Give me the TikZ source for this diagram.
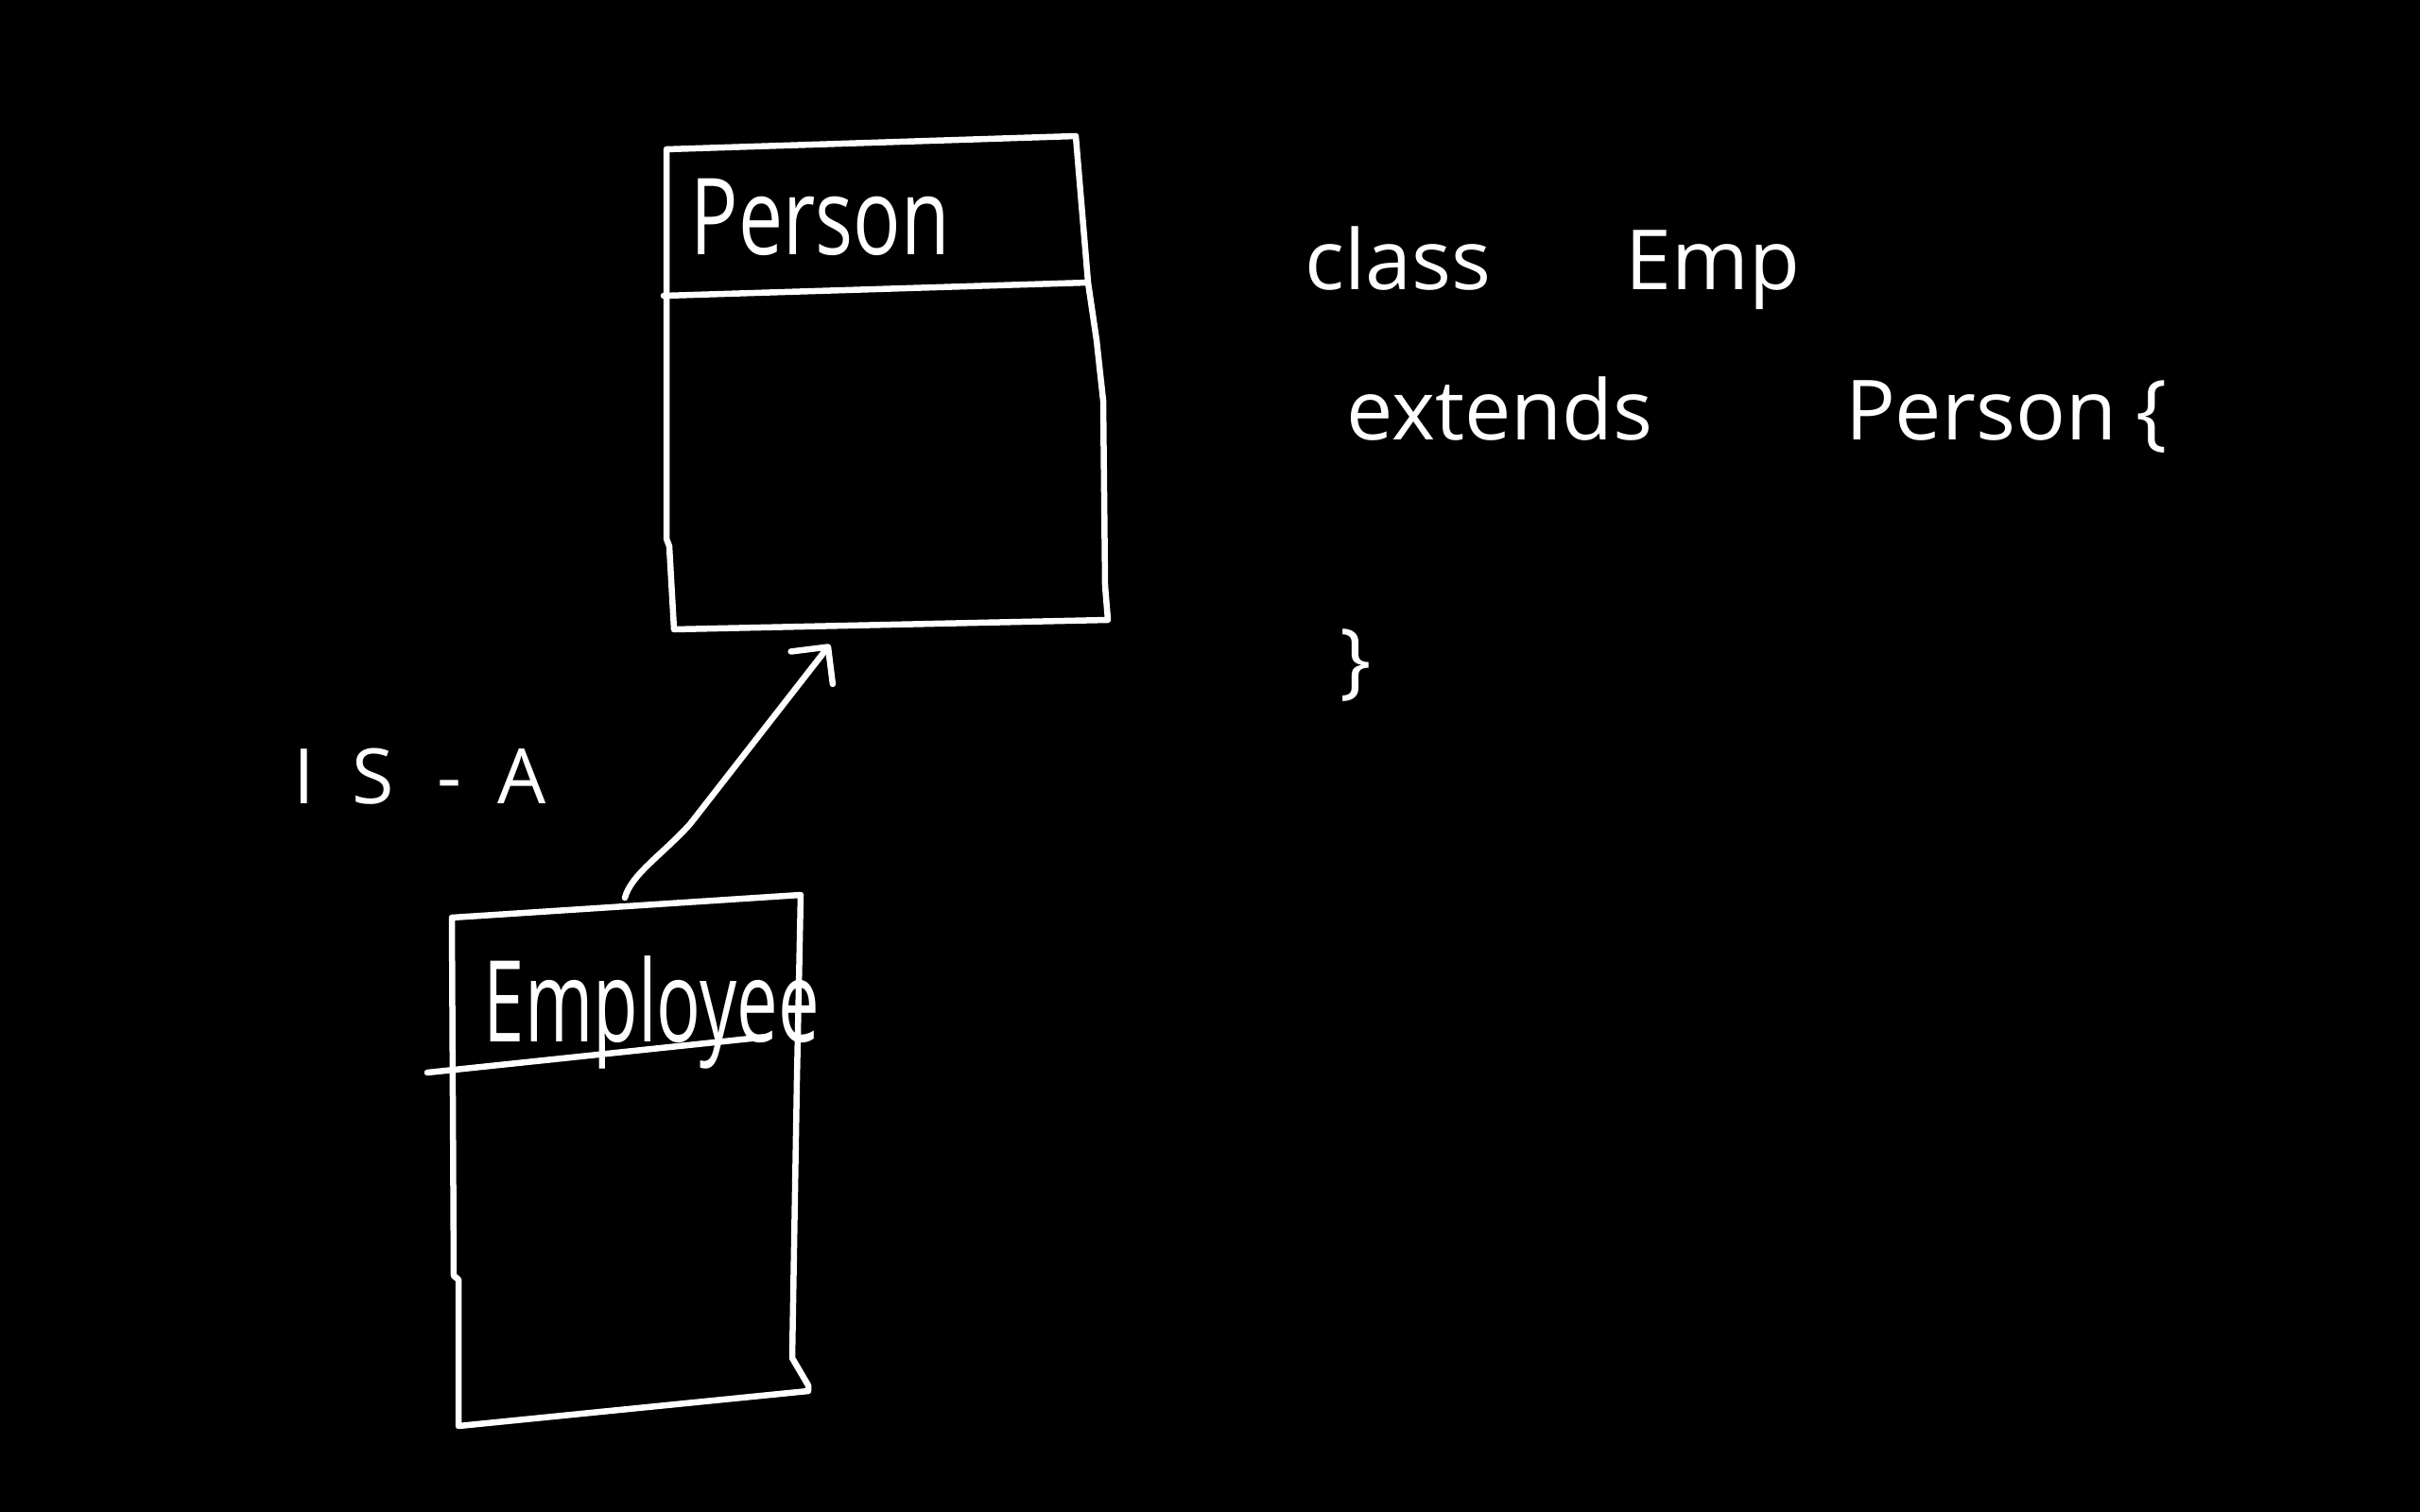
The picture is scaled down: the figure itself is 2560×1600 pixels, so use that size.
\documentclass[tikz,border=0pt]{standalone}
\usepackage{fontspec}
\setmainfont{Open Sans}
\usetikzlibrary{arrows.meta}
\begin{document}
\begin{tikzpicture}[x=0.01cm,y=-0.01cm,
  ink/.style={draw=white, line width=0.065cm, line cap=round, line join=round},
  hand/.style={text=white, inner sep=0pt, anchor=base west},
  codeline/.style={hand, font=\fontsize{25}{30}\selectfont},
  isa/.style={ink, -{Straight Barb[length=0.28cm, width=0.56cm, round]}}]
\fill[black] (0,0) rectangle (2560,1600);
\useasboundingbox (0,0) rectangle (2560,1600);

% Person class box with its name compartment
\draw[ink] (705,158) -- (1138,144) -- (1151,299) -- (1160,360) -- (1167,424) -- (1169,620)
  -- (1172,656) -- (713,666) -- (708,578) -- (705,570) -- cycle;
\draw[ink] (702,313) -- (1151,299);
\node[hand, font=\fontsize{32}{36}\selectfont] (person) at (730,270)
  {\resizebox{2.74cm}{\height}{Person}};

% Employee class box with its name compartment
\draw[ink] (478,971) -- (847,947) -- (843,1143) -- (838,1437) -- (855,1466)
  -- (855,1472) -- (485,1509) -- (485,1354) -- (480,1350) -- cycle;
\draw[ink] (452,1135) -- (813,1097);
\node[hand, font=\fontsize{34}{38}\selectfont] (employee) at (511,1102)
  {\resizebox{3.55cm}{\height}{Employee}};

% Generalisation arrow from Employee up to Person
\coordinate (empTop) at (661,950);
\coordinate (personBelow) at (878,682);
\draw[isa] (empTop) .. controls (668,925) and (700,905) .. (730,872) -- (personBelow);

% Relationship label
\node[hand, font=\fontsize{23}{27}\selectfont] (isalabel) at (310,850)
  {\makebox[0.62cm][l]{I}\makebox[0.9cm][l]{S}\makebox[0.64cm][l]{-}A};

% Java declaration
\node[codeline] (line1) at (1380,307) {\makebox[3.39cm][l]{class}Emp};
\node[codeline] (line2) at (1424,465)
  {\makebox[5.27cm][l]{extends}\makebox[3.07cm][l]{Person}\{};
\node[codeline] (line3) at (1417,728) {\}};
\end{tikzpicture}
\end{document}
